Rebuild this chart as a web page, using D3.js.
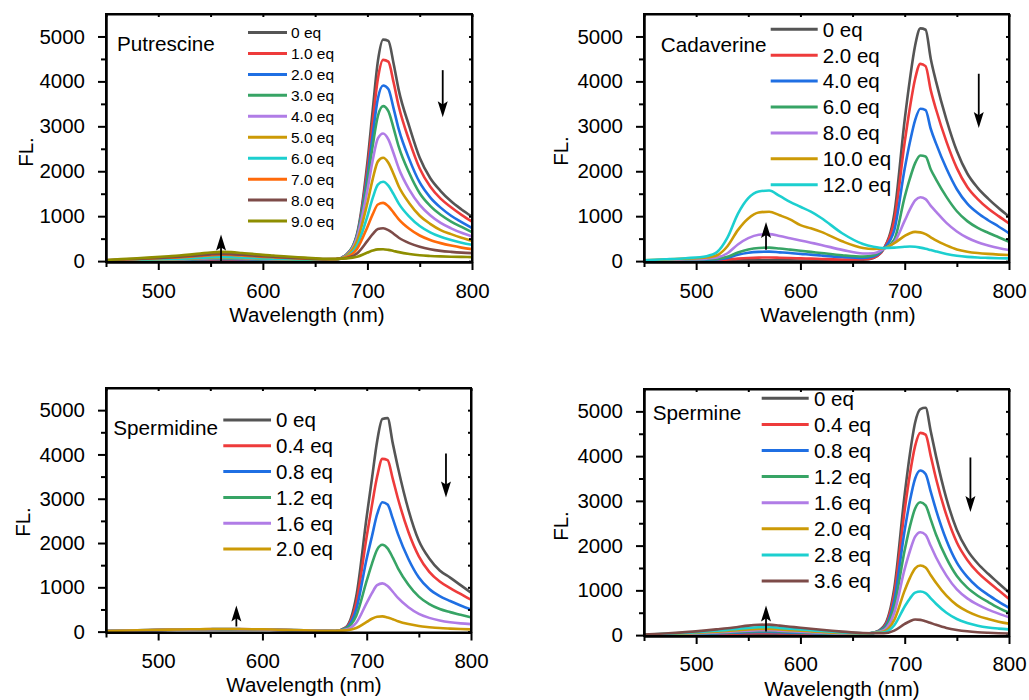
<!DOCTYPE html>
<html>
<head>
<meta charset="utf-8">
<script src="https://cdn.jsdelivr.net/npm/d3@7"></script>
<style>
  html, body { margin: 0; padding: 0; background: #fff; }
  svg { display: block; }
  text { font-family: "Liberation Sans", Arial, sans-serif; fill: #000; }
</style>
</head>
<body>
<svg id="chart" width="1029" height="700"></svg>
<script>
// ---------------- DATA ----------------
const wavelengths = [450,470,490,510,520,530,540,550,560,570,580,590,600,610,620,640,660,
                     670,680,690,700,705,710,715,720,725,730,740,750,760,770,780,790,800];

const xMajorTicks = [500, 600, 700, 800];
const xMinorTicks = [450, 550, 650, 750];
const yMajorTicks = [0, 1000, 2000, 3000, 4000, 5000];
const yMinorTicks = [500, 1500, 2500, 3500, 4500];

// Putrescine
const putrescineLabels = ["0 eq","1.0 eq","2.0 eq","3.0 eq","4.0 eq","5.0 eq","6.0 eq","7.0 eq","8.0 eq","9.0 eq"];
const putrescineValues = [
  [4,8,11,16,18,21,25,28,30,29,26,23,20,18,16,14,30, 40,150,600,2200,3350,4450,4930,4900,4400,3800,3000,2300,1850,1560,1330,1150,990],
  [5,10,15,21,24,28,33,38,40,39,35,31,27,24,21,16,32, 40,140,560,2050,3080,4060,4480,4440,3980,3440,2680,2060,1660,1390,1200,1030,880],
  [6,12,19,26,30,35,41,47,50,48,44,39,34,30,26,19,33, 40,140,560,1900,2800,3620,3910,3830,3400,2930,2270,1750,1420,1190,1010,870,735],
  [7,15,23,31,36,42,49,56,60,58,53,47,41,36,31,23,35, 40,140,560,1780,2560,3230,3450,3340,2960,2540,1960,1510,1230,1030,880,760,645],
  [8,17,27,36,42,49,57,66,70,68,62,55,48,42,36,27,36, 40,130,520,1580,2240,2730,2840,2710,2400,2060,1590,1250,1020,850,730,630,548],
  [10,20,30,42,48,56,66,75,80,78,70,62,54,48,42,30,38, 40,120,440,1300,1820,2220,2300,2190,1940,1660,1290,1010,830,690,600,520,452],
  [11,22,34,47,54,63,74,85,90,87,79,70,61,54,47,34,40, 42,100,340,1000,1400,1700,1765,1680,1490,1280,990,780,640,540,470,410,363],
  [17,35,53,73,84,98,115,132,140,136,123,109,95,84,73,53,42, 45,90,270,760,1040,1260,1295,1220,1080,930,720,570,470,400,345,300,267],
  [19,40,61,83,96,112,131,150,160,155,141,125,109,96,83,61,45, 47,70,170,450,600,715,730,690,610,520,400,320,265,228,205,188,178],
  [25,51,78,107,123,144,168,193,205,199,180,160,139,123,107,78,50, 50,60,95,190,235,262,265,250,225,200,160,130,115,105,98,93,89]
];
const putrescineColors = ["#555555","#ee3b3b","#1f6fe3","#37a465","#b07ce6","#cc9a06","#1ccfcf","#ff6a0a","#7d4b48","#8e8e00"];

// Cadaverine
const cadaverineLabels = ["0 eq","2.0 eq","4.0 eq","6.0 eq","8.0 eq","10.0 eq","12.0 eq"];
const cadaverineValues = [
  [5,8,10,12,13,15,17,18,18,18,17,16,15,14,13,12,30, 70,280,1050,3150,4050,4800,5180,5150,4500,4000,3150,2450,1950,1630,1390,1180,990],
  [5,10,15,20,22,35,55,70,78,80,75,68,60,55,48,35,40, 75,280,900,2650,3420,4060,4390,4340,3800,3380,2660,2070,1650,1380,1170,1000,840],
  [8,15,22,30,35,70,140,185,205,210,195,180,160,145,125,90,70, 100,280,690,2060,2650,3140,3390,3360,2940,2620,2060,1600,1280,1070,910,770,620],
  [10,20,30,40,50,95,190,260,293,300,280,255,230,205,180,130,100, 130,275,480,1430,1840,2180,2350,2330,2040,1820,1430,1110,890,740,630,530,430],
  [15,25,40,55,80,175,370,510,585,600,560,510,460,410,360,250,170, 175,275,420,900,1150,1350,1420,1380,1230,1100,850,660,520,420,350,290,245],
  [20,35,55,80,130,330,690,950,1080,1100,1020,930,800,730,650,440,290, 270,285,400,560,620,650,640,600,530,460,350,260,210,180,160,145,134],
  [20,40,65,110,200,520,1050,1400,1550,1570,1450,1320,1210,1100,960,620,380, 320,290,300,320,325,320,300,275,245,215,160,120,95,80,72,65,60]
];
const cadaverineColors = ["#555555","#ee3b3b","#1f6fe3","#37a465","#b07ce6","#cc9a06","#1ccfcf"];

// Spermidine
const spermidineLabels = ["0 eq","0.4 eq","0.8 eq","1.2 eq","1.6 eq","2.0 eq"];
const spermidineValues = [
  [10,20,30,40,42,45,48,50,52,52,50,48,45,40,35,25,15, 15,100,800,2600,3450,4300,4800,4820,4250,3700,2750,2050,1650,1380,1220,1050,880],
  [10,20,31,41,43,46,49,51,53,53,51,49,46,41,36,26,16, 15,90,650,2150,2850,3500,3900,3870,3450,3000,2250,1700,1350,1130,980,850,720],
  [11,21,32,42,44,47,50,53,55,55,53,50,47,42,37,27,17, 15,80,500,1650,2150,2650,2920,2870,2550,2200,1640,1220,960,800,690,590,500],
  [11,22,33,43,45,49,52,55,57,57,55,52,49,44,38,28,18, 15,70,360,1150,1530,1850,1960,1880,1670,1430,1060,790,620,510,440,380,320],
  [12,23,34,44,47,50,53,56,58,58,56,53,50,45,39,29,19, 15,45,200,650,870,1050,1090,1030,900,760,550,400,310,250,210,185,170],
  [12,24,35,45,48,52,55,58,60,60,58,55,52,47,40,30,20, 20,28,80,220,290,335,345,320,280,235,170,125,100,80,68,58,50]
];
const spermidineColors = ["#555555","#ee3b3b","#1f6fe3","#37a465","#b07ce6","#cc9a06"];

// Spermine
const spermineLabels = ["0 eq","0.4 eq","0.8 eq","1.2 eq","1.6 eq","2.0 eq","2.8 eq","3.6 eq"];
const spermineValues = [
  [2,5,8,14,17,20,23,27,29,30,27,24,21,18,15,10,20, 50,200,1050,3150,4050,4750,5050,5080,4550,4000,3050,2350,1900,1600,1370,1160,950],
  [3,8,14,23,28,33,39,45,49,50,45,40,35,30,25,17,25, 50,180,930,2800,3600,4230,4520,4480,4000,3500,2680,2070,1680,1400,1190,1000,810],
  [4,11,20,32,39,46,55,63,69,70,63,56,49,42,35,23,28, 50,160,780,2350,3000,3500,3680,3600,3200,2800,2120,1620,1300,1070,900,750,610],
  [5,14,25,41,50,59,70,81,88,90,81,72,63,54,45,30,30, 50,140,650,1900,2430,2830,2970,2900,2580,2250,1720,1320,1060,880,740,610,500],
  [6,17,31,50,61,72,86,99,108,110,99,88,77,66,55,36,32, 48,110,500,1480,1880,2200,2300,2240,1990,1740,1330,1020,820,680,570,480,400],
  [7,21,39,63,77,91,109,126,137,140,126,112,98,84,70,46,35, 48,80,340,1000,1280,1490,1555,1510,1340,1170,880,670,530,430,360,300,255],
  [9,27,50,81,99,117,140,162,176,180,162,144,126,108,90,59,40, 45,60,220,640,820,950,975,940,820,700,500,360,270,210,170,145,127],
  [12,35,66,106,129,153,183,212,230,235,212,188,165,141,118,78,47, 42,40,100,250,310,348,340,310,270,230,160,115,85,65,52,42,35]
];
const spermineColors = ["#555555","#ee3b3b","#1f6fe3","#37a465","#b07ce6","#cc9a06","#1ccfcf","#7d4b48"];

// Arrow annotations: [wavelength, fromValue, toValue]
const putrescineArrows = [[772, 4250, 3200], [560, 0, 590]];
const cadaverineArrows = [[771, 4170, 2960], [567, 250, 870]];
const spermidineArrows = [[776, 4020, 3030], [575, 115, 590]];
const spermineArrows   = [[763, 3970, 2750], [567, 80, 660]];

// ---------------- DRAWING ----------------
const svg = d3.select("#chart");
svg.append("rect").attr("width",1029).attr("height",700).attr("fill","#fff");
const FONT = "'Liberation Sans', Arial, sans-serif";
const TICK_FS = 20.5, TITLE_FS = 20.5;

function drawPanel(cfg, idx) {
  const x = d3.scaleLinear().domain([450, 800]).range([cfg.x0, cfg.x1]);
  const y = d3.scaleLinear().domain([-20, 5500]).range([cfg.y1, cfg.y0]);
  const g = svg.append("g");

  const clipId = "clip" + idx;
  svg.append("defs").append("clipPath").attr("id", clipId)
    .append("rect").attr("x", cfg.x0).attr("y", cfg.y0)
    .attr("width", cfg.x1 - cfg.x0).attr("height", cfg.y1 - cfg.y0);

  const line = d3.line().x(d => x(d[0])).y(d => y(d[1])).curve(d3.curveMonotoneX);
  const lg = g.append("g").attr("clip-path", `url(#${clipId})`);
  cfg.values.forEach((vals, i) => {
    lg.append("path")
      .datum(wavelengths.map((w, j) => [w, vals[j]]))
      .attr("d", line)
      .attr("fill", "none")
      .attr("stroke", cfg.colors[i])
      .attr("stroke-width", 2.6)
      .attr("stroke-linejoin", "round");
  });

  function styleAxis(sel) {
    sel.attr("font-family", FONT).attr("font-size", TICK_FS);
    sel.selectAll("path.domain").attr("stroke", "#000").attr("stroke-width", 2);
    sel.selectAll(".tick line").attr("stroke", "#000").attr("stroke-width", 2);
    sel.selectAll(".tick text").attr("fill", "#000");
  }
  // bottom
  g.append("g").attr("transform", `translate(0,${cfg.y1})`)
    .call(d3.axisBottom(x).tickValues(xMajorTicks).tickSize(8).tickPadding(cfg.xpad).tickSizeOuter(0).tickFormat(d3.format("d")))
    .call(styleAxis);
  g.append("g").attr("transform", `translate(0,${cfg.y1})`)
    .call(d3.axisBottom(x).tickValues(xMinorTicks).tickSize(5).tickSizeOuter(0).tickFormat(""))
    .call(styleAxis);
  // left
  g.append("g").attr("transform", `translate(${cfg.x0},0)`)
    .call(d3.axisLeft(y).tickValues(yMajorTicks).tickSize(8).tickPadding(13).tickSizeOuter(0).tickFormat(d3.format("d")))
    .call(styleAxis);
  g.append("g").attr("transform", `translate(${cfg.x0},0)`)
    .call(d3.axisLeft(y).tickValues(yMinorTicks).tickSize(5).tickSizeOuter(0).tickFormat(""))
    .call(styleAxis);
  // right (inward)
  g.append("g").attr("transform", `translate(${cfg.x1},0)`)
    .call(d3.axisLeft(y).tickValues(yMajorTicks.concat(yMinorTicks)).tickSize(3).tickSizeOuter(0).tickFormat(""))
    .call(styleAxis);
  // top (inward)
  g.append("g").attr("transform", `translate(0,${cfg.y0})`)
    .call(d3.axisBottom(x).tickValues(xMajorTicks.concat(xMinorTicks)).tickSize(3).tickSizeOuter(0).tickFormat(""))
    .call(styleAxis);
  // frame
  g.append("rect").attr("x", cfg.x0).attr("y", cfg.y0)
    .attr("width", cfg.x1 - cfg.x0).attr("height", cfg.y1 - cfg.y0)
    .attr("fill", "none").attr("stroke", "#000").attr("stroke-width", 2);

  // axis titles
  g.append("text").attr("x", cfg.xlab[0]).attr("y", cfg.xlab[1])
    .attr("text-anchor", "middle").attr("font-size", TITLE_FS).text("Wavelength (nm)");
  g.append("text").attr("transform", `translate(${cfg.ylab[0]},${cfg.ylab[1]}) rotate(-90)`)
    .attr("text-anchor", "middle").attr("font-size", TITLE_FS).text("FL.");

  // panel title
  g.append("text").attr("x", cfg.title[0]).attr("y", cfg.title[1])
    .attr("font-size", 20.7).text(cfg.name);

  // legend
  const L = cfg.legend;
  cfg.labels.forEach((lab, i) => {
    const yy = L.y + i * L.dy;
    g.append("line").attr("x1", L.x1).attr("x2", L.x2).attr("y1", yy).attr("y2", yy)
      .attr("stroke", cfg.colors[i]).attr("stroke-width", 3);
    g.append("text").attr("x", L.tx).attr("y", yy + 0.36 * L.size)
      .attr("font-size", L.size).text(lab);
  });

  // arrows
  cfg.arrows.forEach(a => {
    const ax = x(a[0]), y1 = y(a[1]), y2 = y(a[2]);
    const dir = y2 > y1 ? 1 : -1;
    const headLen = 16, headW = 5;
    g.append("line").attr("x1", ax).attr("x2", ax).attr("y1", y1).attr("y2", y2 - dir * headLen * 0.6)
      .attr("stroke", "#000").attr("stroke-width", 1.8);
    g.append("path")
      .attr("d", `M${ax},${y2} L${ax - headW},${y2 - dir * headLen} L${ax},${y2 - dir * headLen * 0.8} L${ax + headW},${y2 - dir * headLen} Z`)
      .attr("fill", "#000");
  });
}

const panels = [
  { name: "Putrescine", values: putrescineValues, labels: putrescineLabels, colors: putrescineColors, arrows: putrescineArrows,
    x0: 106, x1: 472, y0: 14, y1: 262, xpad: 13,
    title: [117, 51], xlab: [307, 321.5], ylab: [32.5, 152],
    legend: { x1: 248, x2: 287, tx: 291, y: 32.5, dy: 20.95, size: 15.5 } },
  { name: "Cadaverine", values: cadaverineValues, labels: cadaverineLabels, colors: cadaverineColors, arrows: cadaverineArrows,
    x0: 644, x1: 1009, y0: 14, y1: 262, xpad: 13,
    title: [660.7, 51.7], xlab: [838, 321.5], ylab: [567.5, 151],
    legend: { x1: 770.7, x2: 817.7, tx: 822.7, y: 29.3, dy: 25.9, size: 20.5 } },
  { name: "Spermidine", values: spermidineValues, labels: spermidineLabels, colors: spermidineColors, arrows: spermidineArrows,
    x0: 106, x1: 471, y0: 388, y1: 632.5, xpad: 13,
    title: [113.3, 435], xlab: [304, 692], ylab: [29.5, 522],
    legend: { x1: 223.3, x2: 271, tx: 276, y: 420, dy: 25.8, size: 20.5 } },
  { name: "Spermine", values: spermineValues, labels: spermineLabels, colors: spermineColors, arrows: spermineArrows,
    x0: 644, x1: 1009, y0: 389, y1: 636, xpad: 12.5,
    title: [652.7, 420], xlab: [842, 695.5], ylab: [567.5, 526],
    legend: { x1: 761.7, x2: 808.7, tx: 814, y: 398.3, dy: 26.1, size: 20.5 } }
];
panels.forEach((p, i) => drawPanel(p, i));
</script>
</body>
</html>
